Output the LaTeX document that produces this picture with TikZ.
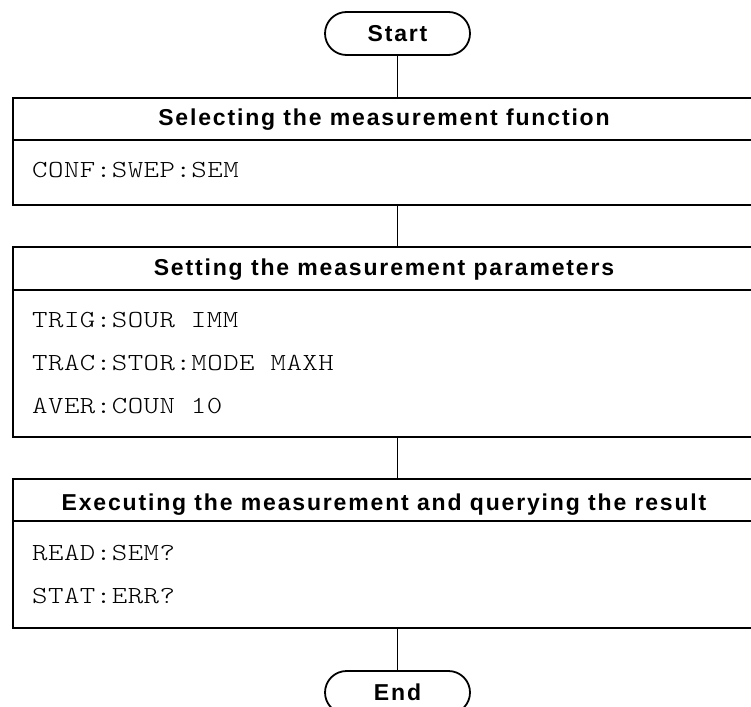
\documentclass[tikz,border=0pt]{standalone}
\usepackage{fontspec}
\setmainfont{Liberation Sans}
\newfontfamily\headfont[LetterSpace=8]{Liberation Sans}
\newfontfamily\codefont[FakeStretch=1.2,LetterSpace=2,Extension=.otf]{lmmonolt10-regular}
\newcommand\codefnt{\codefont\fontsize{24.5}{24.5}\selectfont}
\newcommand\headfnt{\headfont\bfseries\fontsize{23}{23}\selectfont}
\begin{document}
\begin{tikzpicture}[x=1pt,y=-1pt,
  conn/.style={line width=1.8pt},
  frame/.style={draw, line width=1.8pt, rectangle, inner sep=0pt, minimum width=742pt},
  head/.style={anchor=base, inner sep=0pt, font=\headfnt},
  code/.style={anchor=base west, inner sep=0pt, font=\codefnt},
  term/.style={draw, line width=1.8pt, rounded corners=21.5pt, minimum width=145pt, minimum height=43pt, inner sep=0pt, font=\headfnt}]
\useasboundingbox (0,0) rectangle (751,706);
\clip (0,0) rectangle (751,706);
% terminals
\node[term] (st) at (397.5,33.5) {Start};
\node[term] (en) at (397.5,692.5) {End};
% boxes
\node[frame, minimum height=107pt] (b1) at (384,151.5) {};
\node[frame, minimum height=190pt] (b2) at (384,342) {};
\node[frame, minimum height=149pt] (b3) at (384,553.5) {};
\draw[conn] (b1.west |- 0,140) -- (b1.east |- 0,140);
\draw[conn] (b2.west |- 0,290) -- (b2.east |- 0,290);
\draw[conn] (b3.west |- 0,521) -- (b3.east |- 0,521);
% headers
\node[head] (h1) at (384,125) {Selecting the measurement function};
\node[head] (h2) at (384,275) {Setting the measurement parameters};
\node[head] (h3) at (384,510) {Executing the measurement and querying the result};
% code
\node[code] (c1) at (32,177) {CONF:SWEP:SEM};
\node[code] (c2) at (32,327) {TRIG:SOUR IMM};
\node[code] (c3) at (32,370) {TRAC:STOR:MODE MAXH};
\node[code] (c4) at (32,413) {AVER:COUN 10};
\node[code] (c5) at (32,560) {READ:SEM?};
\node[code] (c6) at (32,603) {STAT:ERR?};
% connectors
\draw[conn] (st.south) -- (st.south |- b1.north);
\draw[conn] (b1.south -| st.south) -- (b2.north -| st.south);
\draw[conn] (b2.south -| st.south) -- (b3.north -| st.south);
\draw[conn] (b3.south -| en.north) -- (en.north);
\end{tikzpicture}
\end{document}
